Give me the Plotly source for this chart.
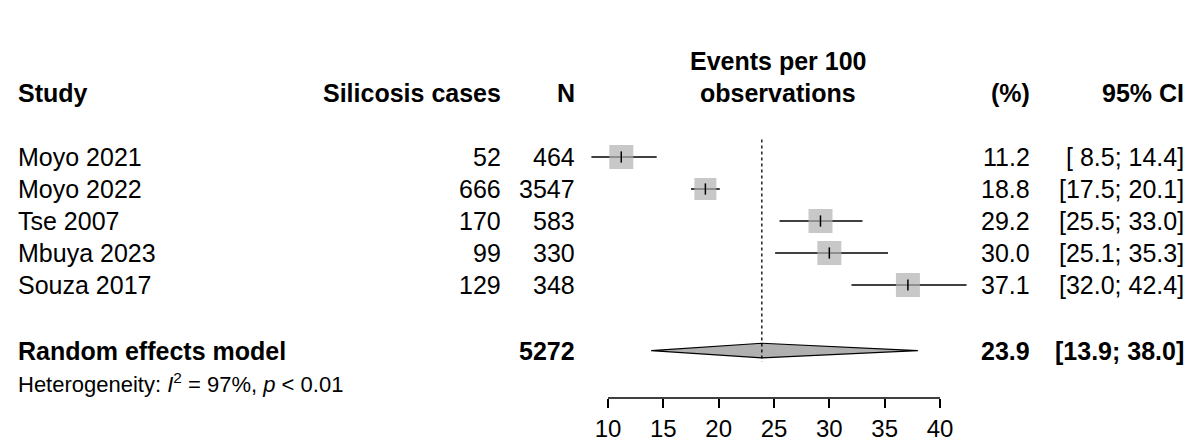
import plotly.graph_objects as go

studies = ["Moyo 2021", "Moyo 2022", "Tse 2007", "Mbuya 2023", "Souza 2017"]
cases = [52, 666, 170, 99, 129]
n_obs = [464, 3547, 583, 330, 348]
est = [11.2, 18.8, 29.2, 30.0, 37.1]
lo = [8.5, 17.5, 25.5, 25.1, 32.0]
hi = [14.4, 20.1, 33.0, 35.3, 42.4]
ci_txt = ["[ 8.5; 14.4]", "[17.5; 20.1]", "[25.5; 33.0]", "[25.1; 35.3]", "[32.0; 42.4]"]
sq_size = [24, 22, 24, 24, 24]
re_est, re_lo, re_hi = 23.9, 13.9, 38.0
total_n = 5272
ticks = [10, 15, 20, 25, 30, 35, 40]

F = "Liberation Sans, Arial, sans-serif"
FS = 25
OFF = 8  # page body offset
px2x = lambda p: 10 + (p - 608) * 30 / 332
rows = list(range(len(studies)))
re_row = 6.05
het_row = 7.05

fig = go.Figure()
for i in rows:
    fig.add_trace(go.Scatter(x=[lo[i], hi[i]], y=[i, i], mode="lines",
                             line=dict(color="black", width=1.5), showlegend=False))
fig.add_trace(go.Scatter(x=est, y=rows, mode="markers", showlegend=False,
                         marker=dict(symbol="square", size=sq_size, color="#b0b0b0", line=dict(width=0))))
fig.add_trace(go.Scatter(x=est, y=rows, mode="markers", showlegend=False,
                         marker=dict(symbol="line-ns", size=8, line=dict(color="black", width=1.5))))
fig.add_trace(go.Scatter(x=[re_lo, re_est, re_hi, re_est, re_lo], y=[re_row, re_row - 0.23, re_row, re_row + 0.23, re_row],
                         mode="lines", fill="toself", fillcolor="#b0b0b0",
                         line=dict(color="black", width=1.2), showlegend=False))
fig.add_shape(type="line", x0=re_est, x1=re_est, y0=-0.55, y1=6.4, line=dict(color="black", width=1.3, dash="dot"))
fig.add_shape(type="line", x0=ticks[0], x1=ticks[-1], yref="paper", y0=0, y1=0, line=dict(color="black", width=1.5))

def txt(xp, y, s, anchor="left", bold=False, size=FS):
    fig.add_annotation(x=px2x(xp), y=y, text=f"<b>{s}</b>" if bold else s, showarrow=False,
                       xanchor=anchor, yanchor="middle", font=dict(family=F, size=size, color="black"))

hy = -2.0
txt(16, hy, "Study", bold=True)
txt(503, hy, "Silicosis cases", "right", True)
txt(577, hy, "N", "right", True)
txt(778, hy, "observations", "center", True)
txt(778, hy - 1.0, "Events per 100", "center", True)
txt(1032, hy, "(%)", "right", True)
txt(1186, hy, "95% CI", "right", True)
for i in rows:
    txt(16, i, studies[i])
    txt(503, i, str(cases[i]), "right")
    txt(577, i, str(n_obs[i]), "right")
    txt(1032, i, f"{est[i]:.1f}", "right")
    txt(1186, i, ci_txt[i], "right")
txt(16, re_row, "Random effects model", bold=True)
txt(577, re_row, str(total_n), "right", True)
txt(1032, re_row, f"{re_est:.1f}", "right", True)
txt(1186, re_row, f"[{re_lo:.1f}; {re_hi:.1f}]", "right", True)
txt(16, het_row, "Heterogeneity: <i>I</i><sup>2</sup> = 97%, <i>p</i> < 0.01", size=22)

fig.update_layout(width=1200, height=442, margin=dict(l=0, r=0, t=0, b=442 - 398 + OFF),
                  plot_bgcolor="white", paper_bgcolor="white",
                  xaxis=dict(range=[px2x(OFF), px2x(1200 + OFF)], tickvals=ticks, ticks="outside", ticklen=9,
                             tickwidth=1.5, tickcolor="black", showgrid=False, zeroline=False, showline=False,
                             tickfont=dict(family=F, size=24, color="black")),
                  yaxis=dict(range=[(398 - 157) / 32, (OFF - 157) / 32], visible=False))
fig.write_html("out.html")
